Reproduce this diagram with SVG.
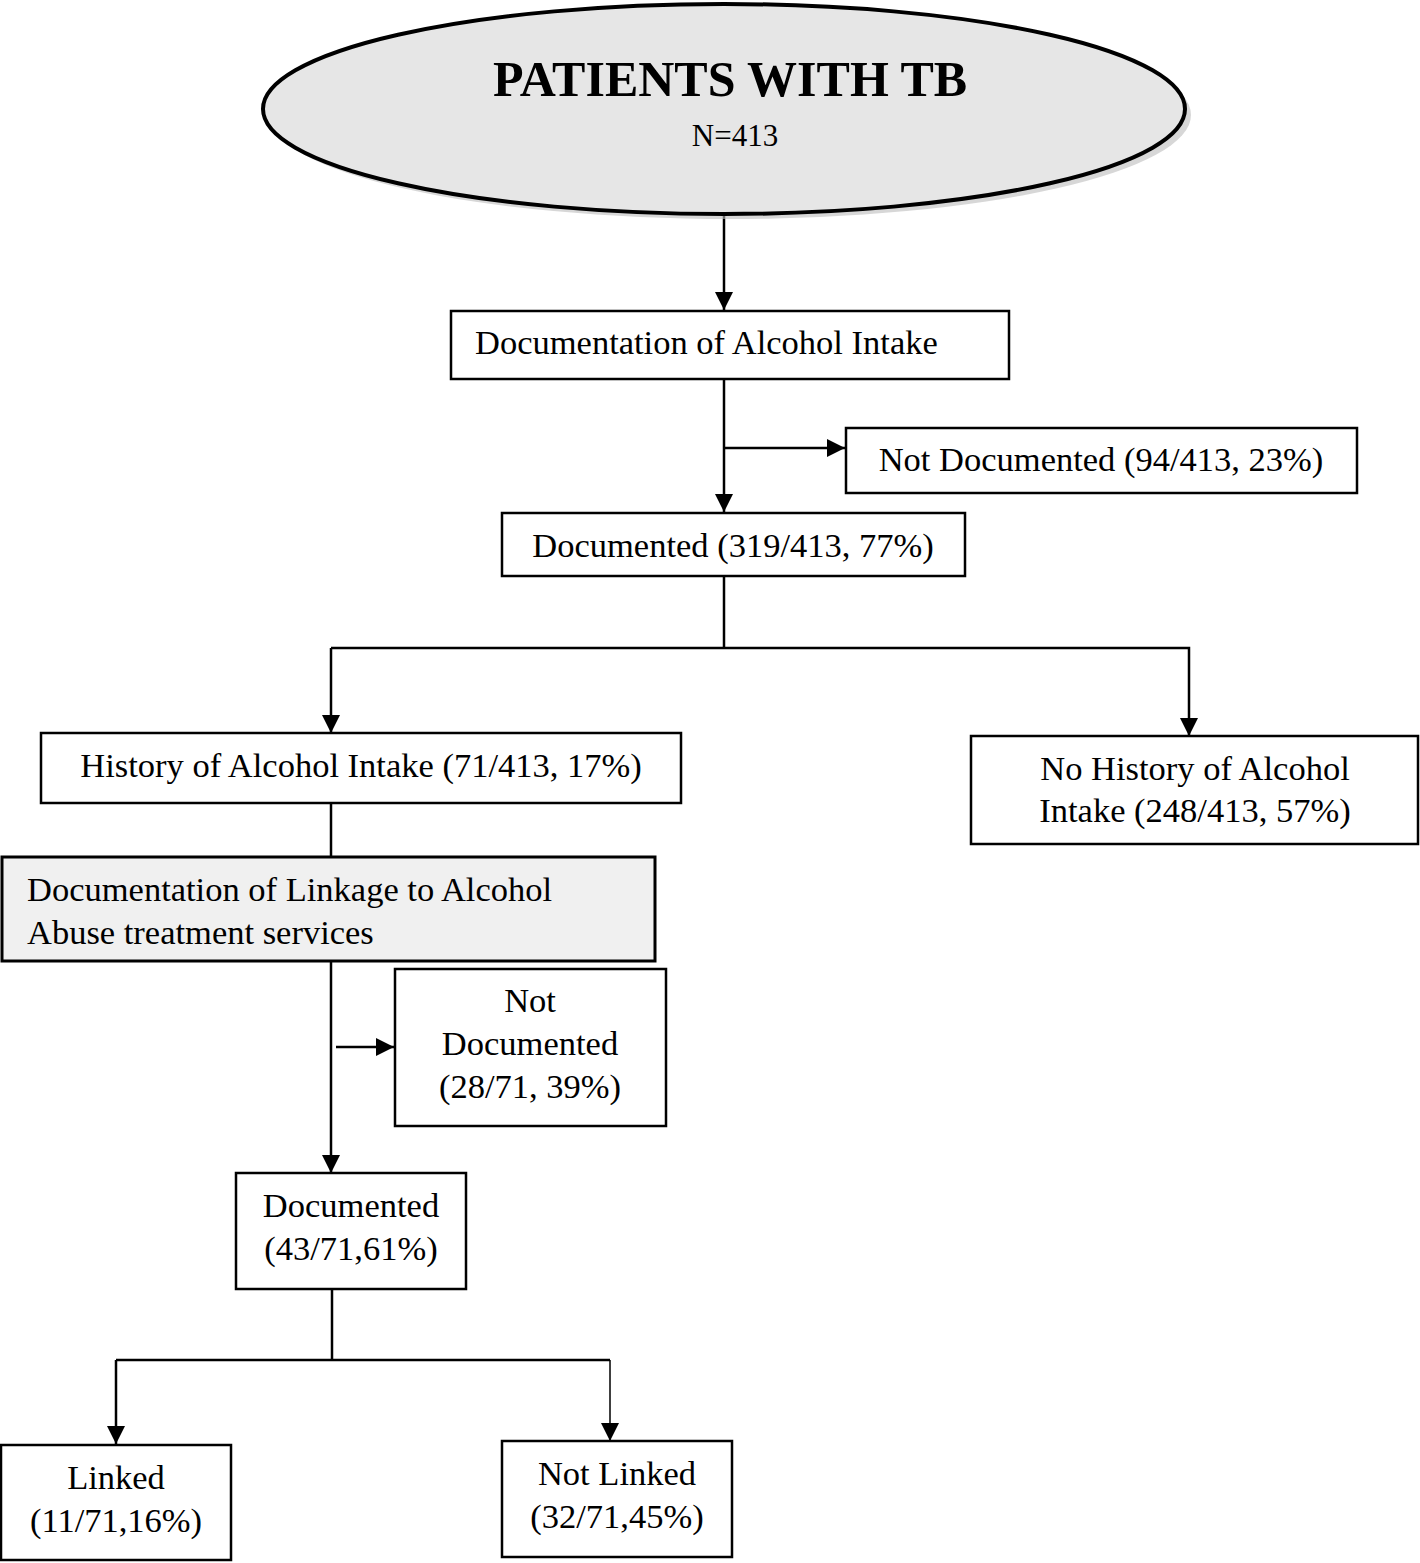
<svg xmlns="http://www.w3.org/2000/svg" width="1420" height="1563" viewBox="0 0 1420 1563">
<defs>
<style>
.box{fill:#fff;stroke:#000;stroke-width:2.5}
.gbox{fill:#f0f0f0;stroke:#000;stroke-width:3}
.t{font-family:"Liberation Serif","Times New Roman",serif;font-size:34.5px;fill:#000}
.c{text-anchor:middle}
.ln{stroke:#000;stroke-width:2.5;fill:none}
</style>
<marker id="a" viewBox="0 0 18 18" markerWidth="18" markerHeight="18" refX="18" refY="9" orient="auto" markerUnits="userSpaceOnUse">
<path d="M0,0 L18,9 L0,18 z" fill="#000"/>
</marker>
</defs>
<rect width="1420" height="1563" fill="#fff"/>

<g id="connectors">
<line class="ln" x1="724" y1="215" x2="724" y2="310" marker-end="url(#a)"/>
<line class="ln" x1="724" y1="379" x2="724" y2="512" marker-end="url(#a)"/>
<line class="ln" x1="724" y1="448" x2="845" y2="448" marker-end="url(#a)"/>
<line class="ln" x1="724" y1="576" x2="724" y2="648"/>
<polyline class="ln" points="331,648 1189,648 1189,736" marker-end="url(#a)"/>
<line class="ln" x1="331" y1="648" x2="331" y2="733" marker-end="url(#a)"/>
<line class="ln" x1="331" y1="803" x2="331" y2="857"/>
<line class="ln" x1="331" y1="961" x2="331" y2="1173" marker-end="url(#a)"/>
<line class="ln" x1="336" y1="1047" x2="394" y2="1047" marker-end="url(#a)"/>
<line class="ln" x1="332" y1="1289" x2="332" y2="1360"/>
<line class="ln" x1="116" y1="1360" x2="610" y2="1360"/>
<line class="ln" x1="116" y1="1360" x2="116" y2="1444" marker-end="url(#a)"/>
<line stroke="#000" stroke-width="1.5" x1="610" y1="1360" x2="610" y2="1441" marker-end="url(#a)"/>
</g>

<g id="n_patients">
<ellipse cx="730" cy="115" rx="461" ry="104" fill="#bdbdbd" opacity="0.6"/>
<ellipse cx="724" cy="109" rx="461" ry="105" fill="#e6e6e6" stroke="#000" stroke-width="4"/>
<text class="t c" x="730" y="96" style="font-size:50px;font-weight:bold">PATIENTS WITH TB</text>
<text class="t c" x="735" y="146" style="font-size:31px">N=413</text>
</g>

<g id="n_doc_intake">
<rect class="box" x="451" y="311" width="558" height="68"/>
<text class="t" x="475" y="354">Documentation of Alcohol Intake</text>
</g>

<g id="n_not_doc1">
<rect class="box" x="846" y="428" width="511" height="65"/>
<text class="t c" x="1101" y="471">Not Documented (94/413, 23%)</text>
</g>

<g id="n_doc1">
<rect class="box" x="502" y="513" width="463" height="63"/>
<text class="t c" x="733" y="557">Documented (319/413, 77%)</text>
</g>

<g id="n_history">
<rect class="box" x="41" y="733" width="640" height="70"/>
<text class="t c" x="361" y="777">History of Alcohol Intake (71/413, 17%)</text>
</g>

<g id="n_no_history">
<rect class="box" x="971" y="736" width="447" height="108"/>
<text class="t c" x="1195" y="780">No History of Alcohol</text>
<text class="t c" x="1195" y="822">Intake (248/413, 57%)</text>
</g>

<g id="n_linkage">
<rect class="gbox" x="2" y="857" width="653" height="104"/>
<text class="t" x="27" y="901">Documentation of Linkage to Alcohol</text>
<text class="t" x="27" y="944">Abuse treatment services</text>
</g>

<g id="n_not_doc2">
<rect class="box" x="395" y="969" width="271" height="157"/>
<text class="t c" x="530" y="1012">Not</text>
<text class="t c" x="530" y="1055">Documented</text>
<text class="t c" x="530" y="1098">(28/71, 39%)</text>
</g>

<g id="n_doc2">
<rect class="box" x="236" y="1173" width="230" height="116"/>
<text class="t c" x="351" y="1217">Documented</text>
<text class="t c" x="351" y="1260">(43/71,61%)</text>
</g>

<g id="n_linked">
<rect class="box" x="1" y="1445" width="230" height="115"/>
<text class="t c" x="116" y="1489">Linked</text>
<text class="t c" x="116" y="1532">(11/71,16%)</text>
</g>

<g id="n_not_linked">
<rect class="box" x="502" y="1441" width="230" height="116"/>
<text class="t c" x="617" y="1485">Not Linked</text>
<text class="t c" x="617" y="1528">(32/71,45%)</text>
</g>
</svg>
